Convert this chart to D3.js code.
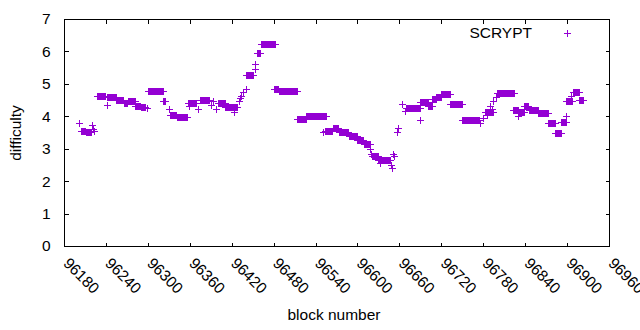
<!DOCTYPE html>
<html lang="en">
<head>
<meta charset="UTF-8">
<title>SCRYPT difficulty</title>
<script src="https://d3js.org/d3.v7.min.js"></script>
<style>
  body { margin: 0; background: #fff; }
  svg { display: block; font-family: "Liberation Sans", Arial, sans-serif; }
</style>
</head>
<body>
<svg class="chart"></svg>
<script>
// runs of blocks with the same difficulty: first block, last block, value
const runStart = [96204, 96211, 96227, 96242, 96255, 96266, 96271, 96282, 96290, 96300,
                  96322, 96332, 96342, 96357, 96374, 96400, 96411, 96441, 96456, 96462,
                  96480, 96487, 96513, 96527, 96553, 96565, 96573, 96588, 96599, 96609,
                  96621, 96630, 96670, 96690, 96701, 96706, 96713, 96720, 96732, 96750,
                  96782, 96800, 96823, 96830, 96838, 96845, 96858, 96873, 96883, 96892,
                  96899, 96908, 96917];
const runEnd   = [96210, 96218, 96239, 96254, 96265, 96270, 96281, 96289, 96296, 96321,
                  96325, 96341, 96356, 96369, 96388, 96410, 96427, 96450, 96461, 96482,
                  96486, 96513, 96526, 96555, 96563, 96572, 96587, 96599, 96608, 96618,
                  96629, 96646, 96689, 96701, 96707, 96712, 96720, 96732, 96750, 96774,
                  96794, 96824, 96830, 96839, 96844, 96858, 96873, 96883, 96892, 96899,
                  96907, 96917, 96923];
const runValue = [3.56, 3.51, 4.62, 4.59, 4.50, 4.41, 4.46, 4.33, 4.29, 4.78,
                  4.46, 4.04, 3.99, 4.40, 4.51, 4.42, 4.28, 5.28, 5.94, 6.23,
                  4.85, 4.78, 3.92, 4.01, 3.54, 3.64, 3.52, 3.38, 3.27, 3.16,
                  2.77, 2.64, 4.26, 4.43, 4.33, 4.52, 4.60, 4.69, 4.38, 3.89,
                  4.13, 4.72, 4.20, 4.13, 4.31, 4.19, 4.11, 3.78, 3.50, 3.81,
                  4.48, 4.76, 4.51];

// single blocks where the difficulty moves
const singleBlock = [96202, 96220, 96222, 96223, 96241, 96299, 96330, 96359, 96372, 96391,
                     96393, 96398, 96424, 96430, 96432, 96434, 96436, 96440, 96453, 96454,
                     96551, 96588, 96618, 96620, 96632, 96648, 96649, 96651, 96652, 96656,
                     96658, 96664, 96668, 96689, 96775, 96780, 96785, 96789, 96792, 96794,
                     96798, 96830, 96899, 96906];
const singleValue = [3.80, 3.72, 3.62, 3.55, 4.36, 4.26, 4.21, 4.33, 4.23, 4.36,
                     4.47, 4.23, 4.14, 4.47, 4.56, 4.64, 4.74, 4.85, 5.46, 5.60,
                     3.52, 3.39, 2.98, 2.84, 2.57, 2.51, 2.39, 2.84, 2.77, 3.52,
                     3.64, 4.38, 4.16, 3.90, 3.80, 3.95, 4.05, 4.31, 4.22, 4.47,
                     4.60, 4.00, 4.02, 4.62];

const xTickValues = [96180, 96240, 96300, 96360, 96420, 96480, 96540, 96600,
                     96660, 96720, 96780, 96840, 96900, 96960];
const yTickValues = [0, 1, 2, 3, 4, 5, 6, 7];
const seriesName = "SCRYPT";

const width = 640, height = 330;
const plotLeft = 64.5, plotRight = 609.5, plotTop = 19.5, plotBottom = 246.5;
const color = "#9400d3";
const font = 15.5;

const svg = d3.select(".chart").attr("width", width).attr("height", height);

const x = d3.scaleLinear().domain([96180, 96960]).range([plotLeft, plotRight]);
const y = d3.scaleLinear().domain([0, 7]).range([plotBottom, plotTop]);

// one point per block
const points = [];
runStart.forEach((s, i) => {
    d3.range(s, runEnd[i] + 1).forEach(b => points.push({ block: b, value: runValue[i] }));
});
singleBlock.forEach((b, i) => points.push({ block: b, value: singleValue[i] }));

function cross(cx, cy) {
    cx = Math.floor(cx) + 0.5;
    cy = Math.floor(cy) + 0.5;
    return `M${cx - 3.5},${cy}H${cx + 3.5}M${cx},${cy - 3.5}V${cy + 3.5}`;
}

// axes, ticks inside the frame like gnuplot
const gx = svg.append("g").attr("transform", `translate(0,${plotBottom})`)
    .call(d3.axisBottom(x).tickValues(xTickValues).tickSizeInner(-4).tickSizeOuter(0)
        .tickFormat(d3.format("d")).offset(0));
gx.selectAll("text")
    .attr("x", 11).attr("y", 14).attr("dy", null)
    .attr("transform", "rotate(45)")
    .attr("text-anchor", "start");

const gxTop = svg.append("g").attr("transform", `translate(0,${plotTop})`)
    .call(d3.axisTop(x).tickValues(xTickValues).tickSizeInner(-4).tickSizeOuter(0)
        .tickFormat("").offset(0));

const gy = svg.append("g").attr("transform", `translate(${plotLeft},0)`)
    .call(d3.axisLeft(y).tickValues(yTickValues).tickSizeInner(-4).tickSizeOuter(0)
        .tickFormat(d3.format("d")).tickPadding(14).offset(0));

const gyRight = svg.append("g").attr("transform", `translate(${plotRight},0)`)
    .call(d3.axisRight(y).tickValues(yTickValues).tickSizeInner(-4).tickSizeOuter(0)
        .tickFormat("").offset(0));

[gx, gxTop, gy, gyRight].forEach(g => {
    g.select(".domain").remove();
    g.attr("font-size", font).attr("font-family", null);
    g.selectAll("line").attr("stroke", "#000").attr("shape-rendering", "crispEdges");
    g.selectAll("text").attr("fill", "#000");
});

svg.append("rect")
    .attr("x", plotLeft).attr("y", plotTop)
    .attr("width", plotRight - plotLeft).attr("height", plotBottom - plotTop)
    .attr("fill", "none").attr("stroke", "#000")
    .attr("shape-rendering", "crispEdges");

// points
svg.append("g")
    .attr("stroke", color).attr("stroke-width", 1).attr("fill", "none")
    .attr("shape-rendering", "crispEdges")
    .selectAll("path")
    .data(points)
    .join("path")
    .attr("d", d => cross(x(d.block), y(d.value)));

// key
svg.append("text")
    .attr("x", 532).attr("y", 37.5)
    .attr("text-anchor", "end")
    .attr("font-size", font)
    .text(seriesName);
svg.append("path")
    .attr("d", cross(567, 33))
    .attr("stroke", color).attr("fill", "none")
    .attr("shape-rendering", "crispEdges");

// axis labels
svg.append("text")
    .attr("x", 334).attr("y", 320)
    .attr("text-anchor", "middle")
    .attr("font-size", font)
    .text("block number");

svg.append("text")
    .attr("transform", "translate(21,133) rotate(-90)")
    .attr("text-anchor", "middle")
    .attr("font-size", font)
    .text("difficulty");
</script>
</body>
</html>
